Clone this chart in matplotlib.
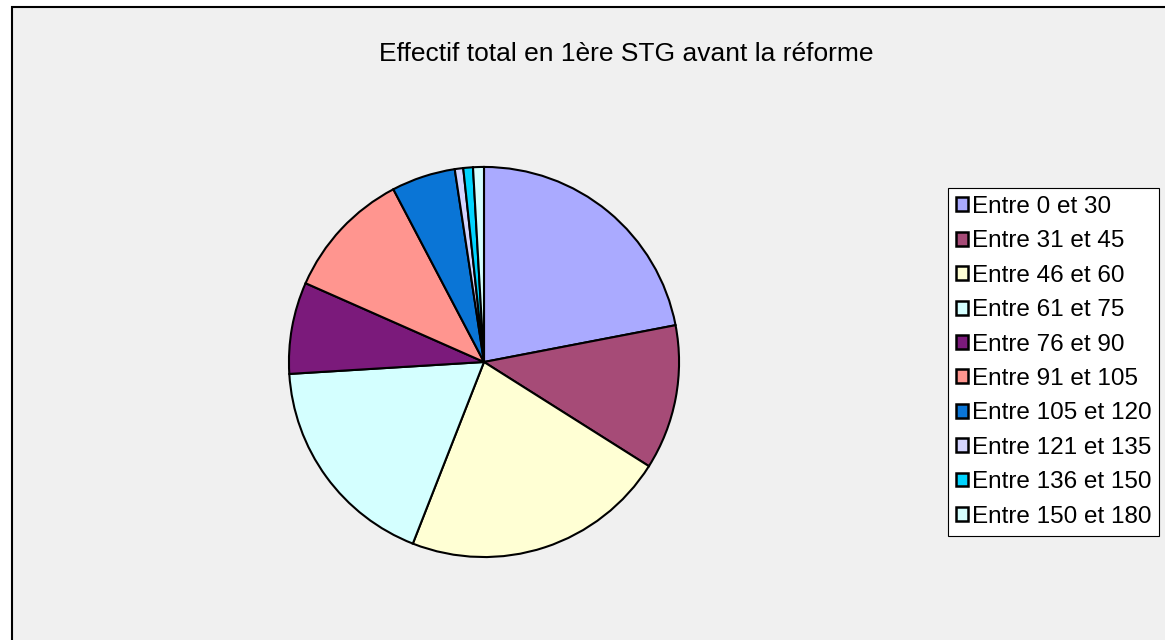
import matplotlib.pyplot as plt
from matplotlib.patches import Rectangle

plt.rcParams['font.family'] = ['Liberation Sans', 'DejaVu Sans']

labels = ["Entre 0 et 30", "Entre 31 et 45", "Entre 46 et 60", "Entre 61 et 75",
          "Entre 76 et 90", "Entre 91 et 105", "Entre 105 et 120", "Entre 121 et 135",
          "Entre 136 et 150", "Entre 150 et 180"]
values = [22.0, 12.0, 22.0, 18.1, 7.6, 10.7, 5.3, 0.7, 0.8, 0.9]
colors = ["#AAAAFF", "#A64B77", "#FFFFD4", "#D4FFFF", "#7B1A7B",
          "#FF958F", "#0A75D6", "#D4D4FF", "#00D4FF", "#D4FFFF"]

W, H = 1165, 640
fig = plt.figure(figsize=(W / 100, H / 100), dpi=100)
fig.patch.set_facecolor("white")

# chart area with border (right and bottom edges run off the image)
fig.add_artist(Rectangle((12 / W, -0.02), 1.0, 1.02 - 7 / H, transform=fig.transFigure,
                         facecolor="#F0F0F0", edgecolor="black", linewidth=1.5, zorder=0))

cx, cy, r = 484, 362, 197
ax = fig.add_axes([(cx - r) / W, (H - cy - r) / H, 2 * r / W, 2 * r / H])
wedges, _ = ax.pie(values, colors=colors, startangle=90, counterclock=False,
                   wedgeprops=dict(edgecolor="black", linewidth=1.5))
ax.set_xlim(-1.01, 1.01)
ax.set_ylim(-1.01, 1.01)
ax.set_aspect("equal")
ax.axis("off")

fig.text(626 / W, 1 - 54 / H, "Effectif total en 1ère STG avant la réforme",
         ha="center", va="center", fontsize=19)

leg = fig.legend(wedges, labels, loc="upper left", bbox_to_anchor=(948 / W, 1 - 188 / H),
                 fontsize=17.5, frameon=True, fancybox=False, edgecolor="black",
                 facecolor="white", framealpha=1,
                 handlelength=0.5, handleheight=0.5, handletextpad=0.15,
                 labelspacing=0.51, borderpad=0.33, borderaxespad=0)
leg.get_frame().set_linewidth(0.8)
for h in leg.legend_handles:
    h.set_linewidth(1.8)

fig.savefig("out.png", dpi=100)
